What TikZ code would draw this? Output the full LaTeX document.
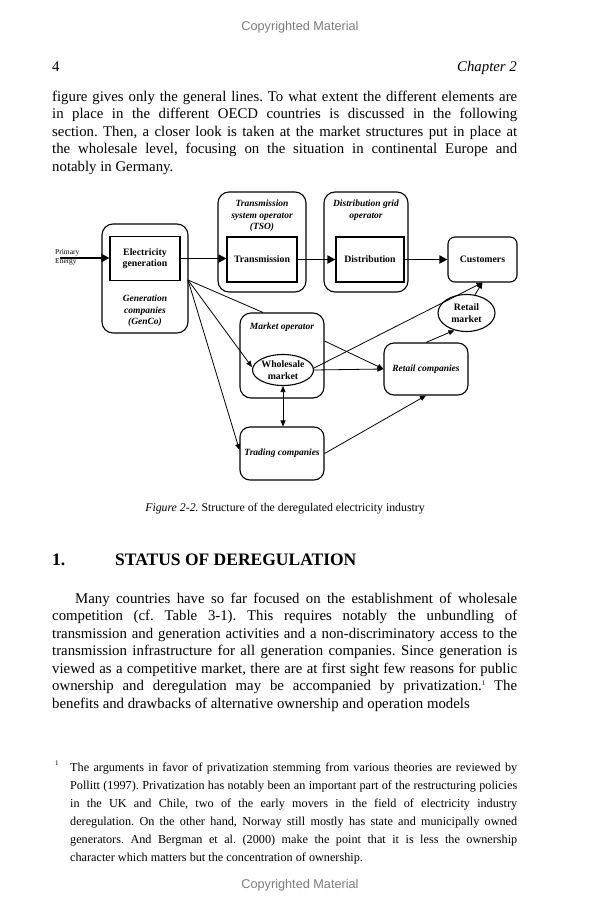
\documentclass[tikz,border=0pt]{standalone}
\usepackage{fontspec}
\setmainfont{Liberation Serif}
\setsansfont{Liberation Sans}
\usetikzlibrary{arrows.meta,shapes.geometric,calc}
\definecolor{cmgray}{RGB}{125,125,125}
\frenchspacing
\newcommand\jline[3]{\node[txt] (#1) at #2 {\makebox[465pt][s]{#3}};}
\newcommand\fline[3]{\node[txt] (#1) at #2 {\makebox[447pt][s]{#3}};}
\begin{document}
\frenchspacing
\begin{tikzpicture}[x=1pt,y=-1pt,
  txt/.style={anchor=base west,inner sep=0pt},
  body/.style={font=\fontsize{14.8pt}{17.5pt}\selectfont},
  foot/.style={font=\fontsize{12.2pt}{13pt}\selectfont},
  obox/.style={draw,line width=1.1pt,rounded corners=11pt,inner sep=0pt},
  ibox/.style={draw,line width=1.1pt,inner sep=0pt,align=center},
  dbold/.style={font=\fontsize{9.8pt}{11.5pt}\selectfont\bfseries},
  dital/.style={font=\fontsize{9.5pt}{11.5pt}\selectfont\bfseries\itshape,align=center,inner sep=0pt},
  ell/.style={draw,ellipse,line width=1.1pt,inner sep=0pt,align=center},
  conn/.style={line width=0.8pt,-{Triangle[length=6pt,width=5pt]}},
  plain/.style={line width=0.8pt},
  flow/.style={line width=1.8pt,-{Triangle[length=8pt,width=8pt]}}]
\fill[white] (0,0) rectangle (600,910);
\useasboundingbox (0,0) rectangle (600,910);

% header
\node[anchor=base,inner sep=0pt,font=\sffamily\fontsize{12.7pt}{14pt}\selectfont,text=cmgray] (cpt) at (300,30) {Copyrighted Material};
\node[txt,body] (pnum) at (52,71) {4};
\node[anchor=base east,inner sep=0pt,body] (chap) at (517,71) {\itshape Chapter 2};

% top text
\begin{scope}[body]
\jline{t1}{(52,101)}{figure gives only the general lines. To what extent the different elements are}
\jline{t2}{(52,118.5)}{in place in the different OECD countries is discussed in the following}
\jline{t3}{(52,136)}{section. Then, a closer look is taken at the market structures put in place at}
\jline{t4}{(52,153.5)}{the wholesale level, focusing on the situation in continental Europe and}
\node[txt] (t5) at (52,171) {notably in Germany.};
\end{scope}

% diagram
\node[obox,minimum width=86pt,minimum height=109pt] (genco) at (145,278.5) {};
\node[ibox,dbold,minimum width=70pt,minimum height=44pt] (elec) at (145,258.5) {Electricity\\generation};
\node[dital] (gencol) at (145,311) {Generation\\companies\\(GenCo)};

\node[obox,minimum width=88pt,minimum height=100pt] (tso) at (262,242) {};
\node[dital] (tsol) at (262,216) {Transmission\\system operator\\(TSO)};
\node[ibox,dbold,minimum width=70pt,minimum height=45pt] (trans) at (262,259.5) {Transmission};

\node[obox,minimum width=84pt,minimum height=100pt] (dgo) at (366,242) {};
\node[dital] (dgol) at (366,210) {Distribution grid\\operator};
\node[ibox,dbold,minimum width=68pt,minimum height=45pt] (distr) at (370,259.5) {Distribution};

\node[obox,dbold,rounded corners=7pt,minimum width=69pt,minimum height=45pt] (cust) at (482.5,259.5) {Customers};

\node[ell,dbold,minimum width=57pt,minimum height=37pt] (rm) at (466.5,313) {Retail\\market};

\node[obox,minimum width=84pt,minimum height=85pt] (mo) at (282,355.5) {};
\node[dital] (mol) at (282,327) {Market operator};
\node[ell,dbold,minimum width=61pt,minimum height=31pt] (wm) at (283,370) {Wholesale\\market};

\node[obox,dital,rounded corners=10pt,minimum width=84pt,minimum height=52pt] (rc) at (426,369) {Retail companies};
\node[obox,dital,rounded corners=10pt,minimum width=84pt,minimum height=53pt] (tc) at (282,453.5) {Trading companies};

% primary energy
\node[anchor=west,inner sep=0pt,font=\fontsize{7.5pt}{8pt}\selectfont] (prim) at (55,253) {Primary};
\node[anchor=west,inner sep=0pt,font=\fontsize{7.5pt}{8pt}\selectfont] (ener) at (55,262) {Energy};
\coordinate (pe) at (60,258);
\coordinate (g) at (188,280);

\draw[flow] (pe) -- (pe -| elec.west);
\draw[flow] (elec.east) -- (elec.east -| trans.west);
\draw[flow] (trans.east) -- (distr.west);
\draw[flow] (distr.east) -- (cust.west);

\draw[plain] (g) -- ([xshift=-19pt]mo.north);
\draw[conn] (g) -- ([yshift=3pt]wm.west);
\draw[conn] (g) -- ([yshift=3.5pt]tc.west);
\draw[conn] ([yshift=14.5pt]mo.east) -- (rc.west);
\draw[conn] (wm.east) -- (rc.west);
\draw[conn] ([yshift=2pt]wm.east) -- (cust.south);
\draw[conn] (rm.65) -- (cust.south);
\draw[conn] (rc.north) -- (rm.235);
\draw[line width=0.8pt,{Triangle[length=6pt,width=5pt]}-{Triangle[length=6pt,width=5pt]}] (wm.south) -- (wm.south |- tc.north);
\draw[conn] (tc.east) -- (rc.south);

% caption
\node[anchor=base,inner sep=0pt,font=\fontsize{11.8pt}{13pt}\selectfont] (cap) at (285,511) {\textit{Figure 2-2.} Structure of the deregulated electricity industry};

% heading
\node[txt,font=\fontsize{17.5pt}{18pt}\selectfont\bfseries] (hnum) at (52,565) {1.};
\node[txt,font=\fontsize{17.5pt}{18pt}\selectfont\bfseries] (htit) at (115,565) {STATUS OF DEREGULATION};

% paragraph
\begin{scope}[body]
\node[txt] (p1) at (75,603) {\makebox[442pt][s]{Many countries have so far focused on the establishment of wholesale}};
\jline{p2}{(52,620.5)}{competition (cf.~Table 3-1). This requires notably the unbundling of}
\jline{p3}{(52,638)}{transmission and generation activities and a non-discriminatory access to the}
\jline{p4}{(52,655.5)}{transmission infrastructure for all generation companies. Since generation is}
\jline{p5}{(52,673)}{viewed as a competitive market, there are at first sight few reasons for public}
\jline{p6}{(52,690.5)}{ownership and deregulation may be accompanied by privatization.\raisebox{5pt}{\fontsize{7pt}{7pt}\selectfont 1} The}
\node[txt] (p7) at (52,708) {benefits and drawbacks of alternative ownership and operation models};
\end{scope}

% footnote
\node[txt,font=\fontsize{7pt}{7pt}\selectfont] (fmark) at (55,765) {1};
\begin{scope}[foot]
\fline{f1}{(70,771)}{The arguments in favor of privatization stemming from various theories are reviewed by}
\fline{f2}{(70,789)}{Pollitt (1997). Privatization has notably been an important part of the restructuring policies}
\fline{f3}{(70,807)}{in the UK and Chile, two of the early movers in the field of electricity industry}
\fline{f4}{(70,825)}{deregulation. On the other hand, Norway still mostly has state and municipally owned}
\fline{f5}{(70,843)}{generators. And Bergman et al. (2000) make the point that it is less the ownership}
\node[txt] (f6) at (70,861) {character which matters but the concentration of ownership.};
\end{scope}

\node[anchor=base,inner sep=0pt,font=\sffamily\fontsize{12.7pt}{14pt}\selectfont,text=cmgray] (cpb) at (300,888) {Copyrighted Material};
\end{tikzpicture}
\end{document}
